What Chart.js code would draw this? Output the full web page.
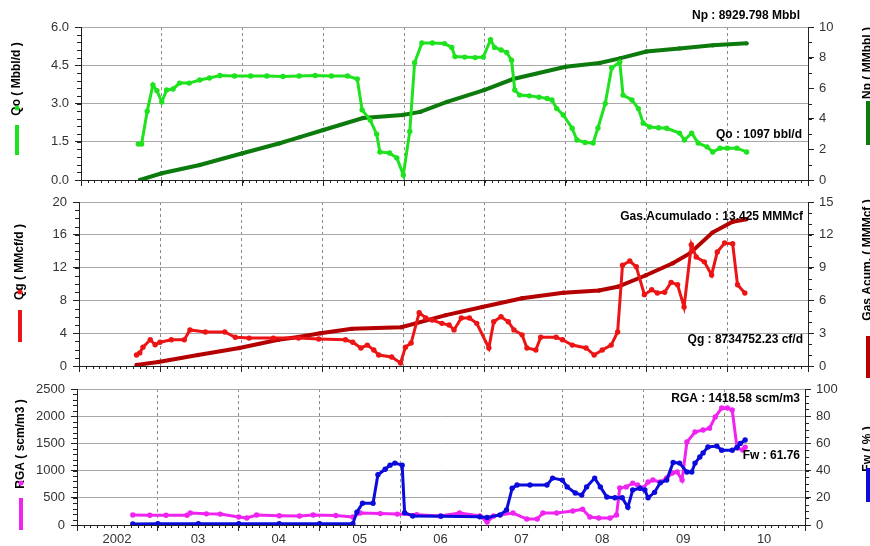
<!DOCTYPE html>
<html>
<head>
<meta charset="utf-8">
<script src="https://cdn.jsdelivr.net/npm/chart.js@4.4.0/dist/chart.umd.min.js"></script>
<style>
  body { margin: 0; background: #fff; }
  #wrap { position: relative; width: 870px; height: 546px; overflow: hidden; }
  #wrap canvas { position: absolute; left: 0; top: 0; }
</style>
</head>
<body>
<div id="wrap">
  <canvas id="c1" width="870" height="546"></canvas>
  <canvas id="c2" width="870" height="546"></canvas>
  <canvas id="c3" width="870" height="546"></canvas>
</div>
<script>
// produccion del pozo (años decimales)
const qoYears = [2002.71, 2002.75, 2002.82, 2002.89, 2002.94, 2003.0, 2003.06, 2003.14, 2003.22, 2003.34, 2003.47, 2003.59, 2003.72, 2003.9, 2004.1, 2004.3, 2004.5, 2004.7, 2004.9, 2005.1, 2005.3, 2005.42, 2005.48, 2005.58, 2005.66, 2005.70, 2005.82, 2005.91, 2005.99, 2006.07, 2006.13, 2006.22, 2006.35, 2006.5, 2006.59, 2006.63, 2006.75, 2006.88, 2006.98, 2007.07, 2007.12, 2007.2, 2007.27, 2007.33, 2007.37, 2007.43, 2007.55, 2007.67, 2007.77, 2007.83, 2007.89, 2007.97, 2008.08, 2008.14, 2008.24, 2008.34, 2008.40, 2008.49, 2008.57, 2008.67, 2008.71, 2008.82, 2008.9, 2008.96, 2009.04, 2009.15, 2009.25, 2009.41, 2009.47, 2009.56, 2009.64, 2009.75, 2009.82, 2009.91, 2010.0, 2010.12, 2010.24];
const qoValues = [1.41, 1.41, 2.7, 3.73, 3.5, 3.06, 3.53, 3.57, 3.8, 3.8, 3.92, 4.0, 4.1, 4.08, 4.08, 4.08, 4.06, 4.08, 4.1, 4.08, 4.08, 3.96, 2.75, 2.35, 1.8, 1.1, 1.06, 0.86, 0.2, 1.9, 4.6, 5.37, 5.37, 5.35, 5.2, 4.84, 4.82, 4.8, 4.82, 5.5, 5.2, 5.1, 5.0, 4.7, 3.53, 3.33, 3.3, 3.25, 3.2, 3.14, 2.8, 2.55, 2.03, 1.57, 1.47, 1.45, 2.04, 3.0, 4.4, 4.63, 3.33, 3.14, 2.8, 2.23, 2.08, 2.05, 2.03, 1.84, 1.57, 1.84, 1.45, 1.3, 1.1, 1.25, 1.25, 1.25, 1.1];

const npYears = [2002.73, 2003.0, 2003.47, 2004.0, 2004.46, 2004.71, 2005.0, 2005.49, 2005.98, 2006.2, 2006.53, 2006.99, 2007.35, 2008.0, 2008.42, 2008.67, 2009.0, 2009.41, 2009.82, 2010.24];
const npValues = [0, 0.44, 0.98, 1.75, 2.4, 2.8, 3.27, 4.05, 4.25, 4.45, 5.1, 5.88, 6.6, 7.4, 7.65, 7.95, 8.4, 8.6, 8.8, 8.93];

const qgYears = [2002.71, 2002.75, 2002.79, 2002.88, 2002.94, 2003.0, 2003.14, 2003.3, 2003.37, 2003.56, 2003.8, 2003.93, 2004.1, 2004.4, 2004.71, 2004.96, 2005.29, 2005.38, 2005.48, 2005.56, 2005.64, 2005.7, 2005.86, 2005.97, 2006.03, 2006.1, 2006.2, 2006.28, 2006.36, 2006.48, 2006.57, 2006.63, 2006.72, 2006.82, 2006.91, 2007.06, 2007.12, 2007.21, 2007.3, 2007.37, 2007.47, 2007.53, 2007.64, 2007.7, 2007.89, 2007.97, 2008.09, 2008.26, 2008.36, 2008.46, 2008.57, 2008.65, 2008.71, 2008.8, 2008.88, 2008.98, 2009.07, 2009.14, 2009.23, 2009.31, 2009.39, 2009.47, 2009.56, 2009.62, 2009.72, 2009.81, 2009.88, 2009.97, 2010.07, 2010.13, 2010.22];
const qgValues = [1.34, 1.6, 2.3, 3.2, 2.6, 2.9, 3.2, 3.2, 4.4, 4.15, 4.15, 3.5, 3.4, 3.4, 3.4, 3.3, 3.2, 2.9, 2.2, 2.55, 1.95, 1.34, 1.1, 0.37, 2.3, 2.8, 6.5, 5.85, 5.6, 5.2, 5.0, 4.4, 5.85, 5.85, 5.2, 2.2, 5.4, 6.0, 5.4, 4.4, 3.8, 2.2, 1.95, 3.5, 3.5, 3.2, 2.55, 2.2, 1.34, 1.95, 2.55, 4.15, 12.3, 12.8, 12.1, 8.7, 9.3, 8.9, 9.0, 10.2, 9.9, 7.2, 14.8, 13.3, 12.7, 11.1, 13.9, 15.0, 14.9, 9.9, 8.9];

const gasAcumYears = [2002.71, 2002.98, 2003.47, 2003.98, 2004.46, 2004.71, 2004.98, 2005.37, 2005.98, 2006.53, 2006.98, 2007.47, 2007.98, 2008.42, 2008.65, 2009.0, 2009.33, 2009.54, 2009.82, 2010.07, 2010.24];
const gasAcumValues = [0.1, 0.37, 1.0, 1.65, 2.4, 2.65, 3.0, 3.4, 3.55, 4.65, 5.4, 6.2, 6.7, 6.9, 7.25, 8.3, 9.4, 10.3, 12.2, 13.2, 13.43];

const rgaYears = [2002.69, 2002.9, 2003.1, 2003.36, 2003.4, 2003.6, 2003.77, 2004.0, 2004.1, 2004.22, 2004.5, 2004.75, 2004.92, 2005.2, 2005.41, 2005.5, 2005.75, 2005.96, 2006.2, 2006.49, 2006.73, 2006.98, 2007.07, 2007.15, 2007.39, 2007.56, 2007.69, 2007.76, 2007.93, 2008.13, 2008.25, 2008.34, 2008.45, 2008.59, 2008.67, 2008.71, 2008.79, 2008.87, 2008.93, 2009.0, 2009.06, 2009.12, 2009.21, 2009.29, 2009.36, 2009.42, 2009.48, 2009.54, 2009.64, 2009.74, 2009.82, 2009.89, 2009.97, 2010.04, 2010.1, 2010.16, 2010.23, 2010.26];
const rgaValues = [184, 180, 178, 180, 220, 205, 200, 147, 130, 184, 170, 165, 184, 175, 147, 220, 210, 200, 190, 165, 220, 165, 55, 165, 220, 110, 110, 220, 220, 257, 290, 147, 128, 128, 184, 680, 700, 770, 735, 680, 790, 827, 790, 864, 955, 975, 827, 1525, 1710, 1745, 1780, 1985, 2150, 2150, 2115, 1415, 1380, 1430];

const fwYears = [2002.69, 2003.0, 2003.5, 2004.0, 2004.5, 2005.0, 2005.41, 2005.46, 2005.53, 2005.66, 2005.72, 2005.81, 2005.87, 2005.93, 2006.02, 2006.05, 2006.15, 2006.5, 2006.98, 2007.07, 2007.23, 2007.31, 2007.38, 2007.44, 2007.6, 2007.81, 2007.88, 2008.0, 2008.06, 2008.16, 2008.24, 2008.3, 2008.4, 2008.47, 2008.55, 2008.65, 2008.74, 2008.81, 2008.87, 2008.96, 2009.02, 2009.06, 2009.14, 2009.21, 2009.29, 2009.37, 2009.45, 2009.54, 2009.6, 2009.64, 2009.7, 2009.74, 2009.8, 2009.91, 2009.97, 2010.1, 2010.16, 2010.2, 2010.26];
const fwValues = [0.7, 1, 1, 1, 1, 1, 1, 9.5, 16, 16, 37, 41, 44, 45.5, 44, 9, 6.6, 6.5, 6, 5.5, 7.4, 11, 27, 29.4, 29.4, 29.4, 34.5, 33, 28, 23.5, 22, 28, 34.5, 28, 20.6, 20, 20, 13, 25.7, 27, 25.7, 20, 24, 31, 33, 46, 45.5, 39, 39, 45.5, 50, 53, 57.4, 58, 55, 55, 57, 60, 62.5];

const yearMin = 2002;
const yearMax = 2011;

const FONT = "'Liberation Sans', Arial, sans-serif";
const INK = '#222';

const C_QO = '#1fe21f';
const C_NP = '#0c7a0c';
const C_QG = '#ec1414';
const C_GAS = '#b40000';
const C_RGA = '#f024f0';
const C_FW = '#0b0bdc';

const pts = (xs, ys) => xs.map((x, i) => ({ x: x, y: ys[i] }));

function serie(data, color, width, radius) {
    return {
        data: data,
        borderColor: color,
        backgroundColor: color,
        pointBackgroundColor: color,
        pointBorderColor: color,
        borderWidth: width,
        pointRadius: radius,
        pointBorderWidth: 0,
        tension: 0,
        fill: false
    };
}

// marcas menores en los ejes
function minorTicks(list) {
    return {
        id: 'minorTicks',
        afterDraw(chart) {
            const ctx = chart.ctx;
            ctx.save();
            ctx.strokeStyle = INK;
            ctx.lineWidth = 1;
            list.forEach(([id, step, len]) => {
                const s = chart.scales[id];
                const n = Math.round((s.max - s.min) / step);
                for (let i = 0; i <= n; i++) {
                    const p = Math.round(s.getPixelForValue(s.min + i * step)) + 0.5;
                    ctx.beginPath();
                    if (id === 'x') {
                        ctx.moveTo(p, s.top);
                        ctx.lineTo(p, s.top + len);
                    } else if (s.position === 'left') {
                        ctx.moveTo(s.right, p);
                        ctx.lineTo(s.right - len, p);
                    } else {
                        ctx.moveTo(s.left, p);
                        ctx.lineTo(s.left + len, p);
                    }
                    ctx.stroke();
                }
            });
            ctx.restore();
        }
    };
}

// textos de valores finales y titulos laterales con su muestra de color
function panelText(notes, sides) {
    return {
        id: 'panelText',
        afterDraw(chart) {
            const ctx = chart.ctx;
            const a = chart.chartArea;
            ctx.save();
            ctx.fillStyle = '#000';
            ctx.font = 'bold 12px ' + FONT;
            ctx.textAlign = 'right';
            ctx.textBaseline = 'middle';
            notes.forEach(n => ctx.fillText(n.text, a.right - n.dx, a.top + n.dy));

            sides.forEach(s => {
                ctx.save();
                ctx.translate(s.x, s.cy);
                ctx.rotate(-Math.PI / 2);
                ctx.font = 'bold 12px ' + FONT;
                ctx.textAlign = 'center';
                ctx.textBaseline = 'middle';
                ctx.fillStyle = '#000';
                ctx.fillText(s.text, 0, 0);
                ctx.restore();
                ctx.strokeStyle = s.color;
                ctx.lineWidth = 4;
                ctx.beginPath();
                ctx.moveTo(s.x, s.barTop);
                ctx.lineTo(s.x, s.barBot);
                ctx.stroke();
                if (s.dotY) {
                    ctx.fillStyle = s.color;
                    ctx.beginPath();
                    ctx.arc(s.x, s.dotY, 2.5, 0, Math.PI * 2);
                    ctx.fill();
                }
            });
            ctx.restore();
        }
    };
}

function yearLabel(v) {
    if (v === yearMax) return '';
    if (v === yearMin) return String(v);
    return String(v - 2000).padStart(2, '0');
}

function panel(id, area, cfg) {
    const H = 546;
    const xh = area.xh || 20;
    return new Chart(document.getElementById(id), {
        type: 'line',
        data: { datasets: cfg.datasets },
        options: {
            responsive: false,
            animation: false,
            layout: { padding: { top: area.top, bottom: H - area.bottom - xh, left: 0, right: 0 } },
            plugins: { legend: { display: false }, tooltip: { enabled: false } },
            scales: {
                x: {
                    type: 'linear',
                    min: yearMin,
                    max: yearMax,
                    afterFit: s => { s.height = xh; },
                    ticks: {
                        stepSize: 1,
                        display: !!cfg.showX,
                        labelOffset: 40,
                        padding: 1,
                        autoSkip: false,
                        maxRotation: 0,
                        color: '#333',
                        font: { size: 13, family: FONT },
                        callback: yearLabel
                    },
                    grid: {
                        color: c => (c.tick && c.tick.value > yearMin && c.tick.value < yearMax) ? '#8a8a8a' : 'rgba(0,0,0,0)',
                        tickColor: INK,
                        tickLength: 6,
                        lineWidth: 1
                    },
                    border: { color: INK, width: 1, dash: [3, 3] }
                },
                y: {
                    position: 'left',
                    min: cfg.left.min,
                    max: cfg.left.max,
                    afterFit: s => { s.width = area.left; },
                    ticks: {
                        stepSize: cfg.left.step,
                        padding: 6,
                        color: '#333',
                        font: { size: 13, family: FONT },
                        callback: cfg.left.fmt || (v => v)
                    },
                    grid: { color: '#a8a8a8', tickColor: INK, tickLength: 6, lineWidth: 1 },
                    border: { color: INK, width: 1 }
                },
                y1: {
                    position: 'right',
                    min: cfg.right.min,
                    max: cfg.right.max,
                    afterFit: s => { s.width = 870 - area.right; },
                    ticks: {
                        stepSize: cfg.right.step,
                        padding: 5,
                        color: '#333',
                        font: { size: 13, family: FONT }
                    },
                    grid: { drawOnChartArea: false, tickColor: INK, tickLength: 6 },
                    border: { color: INK, width: 1 }
                }
            }
        },
        plugins: [
            minorTicks([['x', 1 / 12, 3], ['y', cfg.left.minor, 4], ['y1', cfg.right.minor, 4]]),
            panelText(cfg.notes, cfg.sides)
        ]
    });
}

// petroleo
const qo = serie(pts(qoYears, qoValues), C_QO, 3, 2.7);
qo.yAxisID = 'y';
const np = serie(pts(npYears, npValues), C_NP, 4, 2.2);
np.yAxisID = 'y1';
panel('c1', { left: 81, right: 808, top: 27, bottom: 180 }, {
    datasets: [qo, np],
    left: { min: 0, max: 6, step: 1.5, minor: 0.3, fmt: v => v.toFixed(1) },
    right: { min: 0, max: 10, step: 2, minor: 1 },
    notes: [
        { text: 'Np : 8929.798 Mbbl', dx: 8, dy: -11 },
        { text: 'Qo : 1097 bbl/d', dx: 6, dy: 108 }
    ],
    sides: [
        { text: 'Qo ( Mbbl/d )', x: 17, cy: 79, barTop: 125, barBot: 155, dotY: 108, color: C_QO },
        { text: 'Np ( MMbbl )', x: 868, cy: 63, barTop: 101, barBot: 145, color: C_NP }
    ]
});

// gas
const qg = serie(pts(qgYears, qgValues), C_QG, 3, 2.7);
qg.yAxisID = 'y';
const gasAcum = serie(pts(gasAcumYears, gasAcumValues), C_GAS, 4, 2.2);
gasAcum.yAxisID = 'y1';
panel('c2', { left: 79, right: 808, top: 202, bottom: 366 }, {
    datasets: [qg, gasAcum],
    left: { min: 0, max: 20, step: 4, minor: 1 },
    right: { min: 0, max: 15, step: 3, minor: 1 },
    notes: [
        { text: 'Gas.Acumulado : 13.425 MMMcf', dx: 5, dy: 15 },
        { text: 'Qg : 8734752.23 cf/d', dx: 5, dy: 138 }
    ],
    sides: [
        { text: 'Qg ( MMcf/d )', x: 20, cy: 262, barTop: 310, barBot: 342, dotY: 292, color: C_QG },
        { text: 'Gas Acum. ( MMMcf )', x: 868, cy: 260, barTop: 336, barBot: 378, color: C_GAS }
    ]
});

// RGA y corte de agua
const fw = serie(pts(fwYears, fwValues), C_FW, 3, 2.7);
fw.yAxisID = 'y1';
const rga = serie(pts(rgaYears, rgaValues), C_RGA, 3, 2.7);
rga.yAxisID = 'y';
panel('c3', { left: 77, right: 805, top: 389, bottom: 525, xh: 21 }, {
    datasets: [fw, rga],
    showX: true,
    left: { min: 0, max: 2500, step: 500, minor: 100 },
    right: { min: 0, max: 100, step: 20, minor: 5 },
    notes: [
        { text: 'RGA : 1418.58 scm/m3', dx: 5, dy: 10 },
        { text: 'Fw : 61.76', dx: 5, dy: 67 }
    ],
    sides: [
        { text: 'RGA ( scm/m3 )', x: 21, cy: 444, barTop: 498, barBot: 530, dotY: 483, color: C_RGA },
        { text: 'Fw ( % )', x: 868, cy: 449, barTop: 468, barBot: 502, color: C_FW }
    ]
});
</script>
</body>
</html>
